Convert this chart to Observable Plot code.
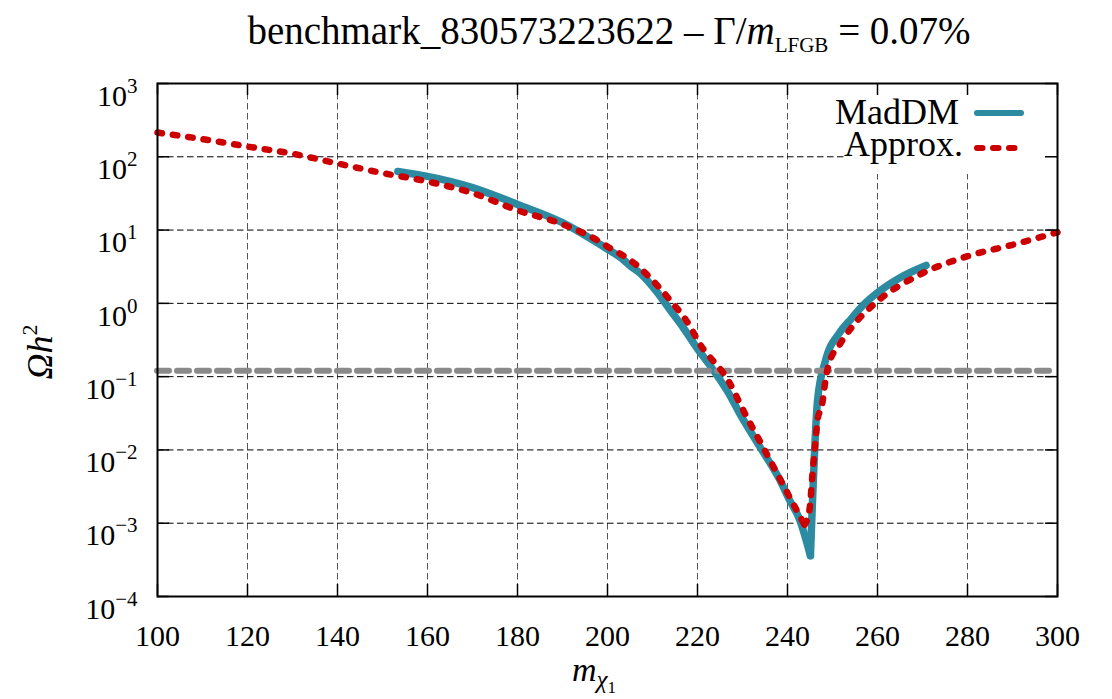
<!DOCTYPE html>
<html>
<head>
<meta charset="utf-8">
<script src="https://cdn.jsdelivr.net/npm/d3@7"></script>
<script src="https://cdn.jsdelivr.net/npm/@observablehq/plot@0.6"></script>
<style>
  html, body { margin: 0; padding: 0; background: #fff; }
  #chart svg { display: block; }
  #chart svg text, #chart svg tspan { font-family: 'Liberation Serif', serif !important; }
</style>
</head>
<body>
<div id="chart"></div>
<script>
// ---------- data ----------
const xTicks = [100, 120, 140, 160, 180, 200, 220, 240, 260, 280, 300];
const yTicks = [1e-4, 1e-3, 1e-2, 1e-1, 1e0, 1e1, 1e2, 1e3];

// MadDM relic density (solid blue)
const maddmMass  = [153.4, 160, 170, 180, 190, 196, 199.8, 203.4, 205.3, 207.1, 210.8, 213.8, 216.7, 219.8, 223.4, 227.1, 229.3, 233.8, 238.2, 240.4, 242.7, 245.1, 246.7, 248.4, 251.6, 254.2, 256.7, 260, 265, 270.8];
const maddmOmega = [63, 54, 38, 22.4, 12.6, 7.8, 5.6, 4.0, 3.16, 2.63, 1.48, 0.83, 0.48, 0.25, 0.126, 0.057, 0.032, 0.0112, 0.0040, 0.0021, 0.00112, 0.00036, 0.049, 0.162, 0.40, 0.62, 0.93, 1.40, 2.24, 3.29];

// Approximation (red dashed)
const approxMass  = [100, 110, 120, 130, 140, 150, 160, 170, 180, 190, 197.5, 200.4, 203.8, 206.7, 209.3, 211.6, 214.1, 217.9, 220.4, 227.1, 230.1, 234.9, 240.1, 243.8, 244.9, 245.6, 246.2, 246.7, 247.6, 248.7, 249.3, 251.6, 254.5, 260, 269.3, 280, 290, 300];
const approxOmega = [214, 174, 138, 110, 81, 60, 46, 32, 18.6, 12.0, 7.4, 5.75, 4.37, 3.24, 2.29, 1.62, 1.07, 0.537, 0.288, 0.083, 0.0355, 0.0100, 0.00251, 0.00095, 0.00155, 0.0051, 0.0126, 0.0263, 0.039, 0.112, 0.155, 0.275, 0.49, 1.07, 2.45, 4.4, 6.3, 9.3];

// observed relic density reference line
const omegaObs = [0.12];

const legendLabels = ["MadDM", "Approx."];
const titleText = { main: "benchmark_830573223622 \u2013 \u0393/", mass: "m", sub: "LFGB", tail: " = 0.07%" };
const yLabel = { sym: "\u03A9", h: "h", sup: "2" };
const xLabel = { m: "m", chi: "\u03C7", idx: "1" };

// ---------- layout ----------
const W = 1112, H = 699;
const mL = 157, mR = 55, mT = 83, mB = 103;
const fw = W - mL - mR, fh = H - mT - mB;
const tickLen = 12;

const colBlue = "#2c8aa1";
const colRed = "#cc0000";
const colGrey = "#8a8a8a";
const serif = "'Liberation Serif', serif";

// split each series at its minimum so the resonance dip stays a sharp V
function branches(xs, ys) {
  const iMin = d3.minIndex(ys);
  const rows = [];
  xs.forEach((x, i) => {
    if (i <= iMin) rows.push({ x, y: ys[i], branch: "left" });
    if (i >= iMin) rows.push({ x, y: ys[i], branch: "right" });
  });
  return rows;
}
const maddm = branches(maddmMass, maddmOmega);
const approx = branches(approxMass, approxOmega);

const plot = Plot.plot({
  width: W,
  height: H,
  marginLeft: mL,
  marginRight: mR,
  marginTop: mT,
  marginBottom: mB,
  style: { fontFamily: serif, fontSize: "30px", background: "#fff", color: "#000", overflow: "visible" },
  x: { domain: [100, 300], ticks: xTicks, tickSize: 0, tickPadding: 28, label: null, tickFormat: d => String(d) },
  y: { type: "log", domain: [1e-4, 1e3], ticks: yTicks, tickSize: 0, tickPadding: 20, label: null,
       tickFormat: d => String(Math.round(Math.log10(d))) },
  marks: [
    Plot.ruleX(xTicks.slice(1, -1), { stroke: "#555", strokeWidth: 1, strokeDasharray: "6.5,3.5" }),
    Plot.ruleY(yTicks.slice(1, -1), { stroke: "#000", strokeWidth: 1, strokeDasharray: "6.5,3.5" }),
    Plot.line(maddm, { x: "x", y: "y", z: "branch", curve: "monotone-x", stroke: colBlue, strokeWidth: 7.5, strokeLinejoin: "round", strokeLinecap: "round" }),
    Plot.ruleY(omegaObs, { stroke: colGrey, strokeWidth: 6, strokeDasharray: "12,8", strokeLinecap: "round" }),
    Plot.line(approx, { x: "x", y: "y", z: "branch", curve: "monotone-x", stroke: colRed, strokeWidth: 6.5, strokeDasharray: "4.5,11", strokeLinecap: "round", strokeLinejoin: "round" }),
    Plot.tickX(xTicks, { x: d => d, insetTop: fh - tickLen, stroke: "#000", strokeWidth: 1.5 }),
    Plot.tickX(xTicks, { x: d => d, insetBottom: fh - tickLen, stroke: "#000", strokeWidth: 1.5 }),
    Plot.tickY(yTicks, { y: d => d, insetRight: fw - tickLen, stroke: "#000", strokeWidth: 1.5 }),
    Plot.tickY(yTicks, { y: d => d, insetLeft: fw - tickLen, stroke: "#000", strokeWidth: 1.5 }),
    Plot.frame({ stroke: "#000", strokeWidth: 2 })
  ]
});

document.getElementById("chart").appendChild(plot);
const svg = d3.select(plot);

// axis tick label sizes
svg.selectAll("g[aria-label='x-axis tick label'], g[aria-label='y-axis tick label']")
  .attr("font-size", 30).style("font-size", "30px");

// y tick labels as 10^n with superscript exponents
svg.selectAll("g[aria-label='y-axis tick label'] text").each(function () {
  const t = d3.select(this);
  const e = t.text().replace("-", "\u2212");
  t.text("").attr("dy", "0.42em");
  t.append("tspan").text("10");
  t.append("tspan").attr("dy", -13).style("font-size", "21px").text(e);
});

// opaque legend box (blanks the grid beneath)
svg.insert("rect", "g[aria-label='line']")
  .attr("x", 847).attr("y", mT + 1).attr("width", W - mR - 847 - 1).attr("height", 90)
  .attr("fill", "#fff");

// legend
const lg = svg.append("g").style("font-size", "36px").attr("text-anchor", "end");
lg.append("text").attr("x", 959).attr("y", 124).text(legendLabels[0]);
lg.append("text").attr("x", 963).attr("y", 156).text(legendLabels[1]);
lg.append("line").attr("x1", 977).attr("x2", 1021).attr("y1", 113).attr("y2", 113)
  .attr("stroke", colBlue).attr("stroke-width", 6).attr("stroke-linecap", "round");
lg.append("line").attr("x1", 977).attr("x2", 1016).attr("y1", 148).attr("y2", 148)
  .attr("stroke", colRed).attr("stroke-width", 6).attr("stroke-linecap", "round").attr("stroke-dasharray", "5.5,10.5");

// title
const tt = svg.append("text").attr("x", 609).attr("y", 44).attr("text-anchor", "middle")
  .style("font-size", "39px").attr("fill", "#000");
tt.append("tspan").text(titleText.main);
tt.append("tspan").style("font-style", "italic").text(titleText.mass);
tt.append("tspan").style("font-size", "21px").attr("dy", 8).text(titleText.sub);
tt.append("tspan").attr("dy", -8).text(titleText.tail);

// y axis label
const yl = svg.append("text").attr("transform", "translate(52,352) rotate(-90)").attr("text-anchor", "middle")
  .style("font-size", "36px").attr("fill", "#000");
yl.append("tspan").style("font-style", "italic").text(yLabel.sym);
yl.append("tspan").style("font-style", "italic").text(yLabel.h);
yl.append("tspan").style("font-size", "22px").attr("dy", -15).text(yLabel.sup);

// x axis label
const xl = svg.append("text").attr("x", 594).attr("y", 681).attr("text-anchor", "middle")
  .style("font-size", "34px").attr("fill", "#000");
xl.append("tspan").style("font-style", "italic").text(xLabel.m);
xl.append("tspan").style("font-style", "italic").style("font-size", "25px").attr("dy", 7).text(xLabel.chi);
xl.append("tspan").style("font-size", "17px").attr("dy", 5).text(xLabel.idx);

// one serif family for every text
svg.selectAll("text, tspan").attr("font-family", serif);
</script>
</body>
</html>
